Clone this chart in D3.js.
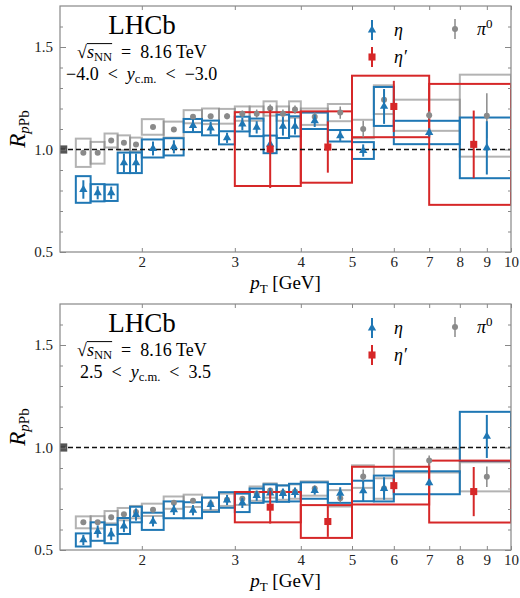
<!DOCTYPE html>
<html>
<head>
<meta charset="utf-8">
<script src="https://cdn.jsdelivr.net/npm/d3@7"></script>
<style>
  body { margin: 0; background: #fff; }
  svg, text { font-family: "Liberation Serif", "DejaVu Serif", serif; }
</style>
</head>
<body>
<svg width="520" height="598"></svg>
<script>
// pT bin edges [GeV]
const ptEdges = [1.5, 1.6, 1.7, 1.8, 1.9, 2.0, 2.2, 2.4, 2.6, 2.8, 3.0, 3.2, 3.4, 3.6, 3.8, 4.0, 4.5, 5.0, 5.5, 6, 8, 10];
const etaPrimeEdges = [3, 4, 5, 7, 10];

const xTicks = [2, 3, 4, 5, 6, 7, 8, 9, 10];
const yMajor = [0.5, 1.0, 1.5];
const yMinor = [0.6, 0.7, 0.8, 0.9, 1.1, 1.2, 1.3, 1.4, 1.6];

// backward  -4.0 < y < -3.0
const etaBwd     = [0.805, 0.789, 0.789, 0.935, 0.935, 1.005, 1.013, 1.117, 1.105, 1.057, 1.124, 1.108, 1.025, 1.113, 1.113, 1.14, 1.067, 0.995, 1.21, 1.083, 1.008];
const etaBwdSys  = [0.065, 0.042, 0.04, 0.05, 0.05, 0.044, 0.042, 0.032, 0.036, 0.032, 0.036, 0.043, 0.043, 0.057, 0.049, 0.04, 0.028, 0.041, 0.095, 0.057, 0.148];
const etaBwdStat = [0.045, 0.032, 0.03, 0.045, 0.045, 0.034, 0.032, 0.03, 0.03, 0.025, 0.03, 0.03, 0.035, 0.045, 0.04, 0.03, 0.025, 0.03, 0.085, 0.02, 0.13];

const piBwd     = [0.984, 0.984, 1.044, 1.033, 1.025, 1.11, 1.097, 1.16, 1.162, 1.162, 1.175, 1.175, 1.2, 1.175, 1.195, 1.16, 1.18, 1.1, 1.243, 1.167, 1.165];
const piBwdSys  = [0.069, 0.053, 0.034, 0.036, 0.033, 0.038, 0.039, 0.032, 0.038, 0.036, 0.035, 0.035, 0.035, 0.035, 0.04, 0.04, 0.042, 0.045, 0.07, 0.076, 0.2];
const piBwdStat = [0.01, 0.01, 0.01, 0.01, 0.01, 0.01, 0.01, 0.012, 0.012, 0.015, 0.015, 0.02, 0.02, 0.02, 0.02, 0.02, 0.03, 0.04, 0.05, 0.02, 0.11];

const etaPrimeBwd     = [1.002, 1.012, 1.21, 1.025];
const etaPrimeBwdSys  = [0.18, 0.174, 0.15, 0.295];
const etaPrimeBwdStat = [0.19, 0.125, 0.125, 0.165];

// forward  2.5 < y < 3.5
const etaFwd     = [0.549, 0.59, 0.578, 0.617, 0.673, 0.64, 0.696, 0.694, 0.721, 0.744, 0.73, 0.765, 0.778, 0.775, 0.78, 0.79, 0.776, 0.788, 0.8, 0.828, 1.054];
const etaFwdSys  = [0.032, 0.045, 0.045, 0.039, 0.038, 0.042, 0.041, 0.039, 0.035, 0.038, 0.045, 0.035, 0.042, 0.04, 0.043, 0.04, 0.046, 0.05, 0.063, 0.056, 0.12];
const etaFwdStat = [0.025, 0.03, 0.03, 0.03, 0.03, 0.025, 0.025, 0.025, 0.025, 0.025, 0.025, 0.025, 0.025, 0.025, 0.025, 0.02, 0.03, 0.05, 0.055, 0.015, 0.105];

const piFwd     = [0.635, 0.635, 0.66, 0.675, 0.685, 0.696, 0.731, 0.74, 0.725, 0.745, 0.75, 0.775, 0.79, 0.78, 0.785, 0.8, 0.752, 0.858, 0.8, 0.936, 0.857];
const piFwdSys  = [0.029, 0.03, 0.03, 0.03, 0.03, 0.03, 0.03, 0.03, 0.03, 0.03, 0.03, 0.035, 0.035, 0.035, 0.035, 0.035, 0.04, 0.055, 0.05, 0.058, 0.071];
const piFwdStat = [0.008, 0.008, 0.008, 0.008, 0.008, 0.008, 0.01, 0.01, 0.01, 0.01, 0.012, 0.012, 0.012, 0.015, 0.015, 0.015, 0.02, 0.035, 0.03, 0.025, 0.05];

const etaPrimeFwd     = [0.709, 0.639, 0.814, 0.785];
const etaPrimeFwdSys  = [0.074, 0.08, 0.092, 0.151];
const etaPrimeFwdStat = [0.08, 0.075, 0.035, 0.12];

// normalisation uncertainty box
const normPt = [1.4, 1.445];
const normUnc = 0.02;

const blue = "#1f77b4", red = "#d62728", grey = "#8a8a8a";
const SP = "\u2002"; // wider math spacing around relations

const svg = d3.select("svg");

function makeBins(edges, vals, sys, stat) {
  return vals.map((v, i) => ({
    lo: edges[i], hi: edges[i + 1], c: (edges[i] + edges[i + 1]) / 2,
    v: v, sys: sys[i], stat: stat[i]
  }));
}

const panels = [
  {
    top: 6, bottom: 252, id: "bwd",
    rap: ["\u22124.0" + SP + "<" + SP, SP + "<" + SP + "\u22123.0"], rapX: 66,
    pi: makeBins(ptEdges, piBwd, piBwdSys, piBwdStat),
    eta: makeBins(ptEdges, etaBwd, etaBwdSys, etaBwdStat),
    etaP: makeBins(etaPrimeEdges, etaPrimeBwd, etaPrimeBwdSys, etaPrimeBwdStat)
  },
  {
    top: 304, bottom: 550, id: "fwd",
    rap: ["2.5" + SP + "<" + SP, SP + "<" + SP + "3.5"], rapX: 80,
    pi: makeBins(ptEdges, piFwd, piFwdSys, piFwdStat),
    eta: makeBins(ptEdges, etaFwd, etaFwdSys, etaFwdStat),
    etaP: makeBins(etaPrimeEdges, etaPrimeFwd, etaPrimeFwdSys, etaPrimeFwdStat)
  }
];

const left = 60, right = 511;
const x = d3.scaleLog().domain([1.4, 10]).range([left, right]);

panels.forEach(p => drawPanel(p));

function drawPanel(p) {
  const y = d3.scaleLinear().domain([0.5, 1.7]).range([p.bottom, p.top]);
  const g = svg.append("g");

  g.append("clipPath").attr("id", "clip-" + p.id)
    .append("rect")
    .attr("x", left).attr("y", p.top)
    .attr("width", right - left).attr("height", p.bottom - p.top);

  const plot = g.append("g").attr("clip-path", `url(#clip-${p.id})`);

  // normalisation box
  plot.append("rect")
    .attr("x", x(normPt[0]))
    .attr("width", x(normPt[1]) - x(normPt[0]))
    .attr("y", y(1 + normUnc))
    .attr("height", y(1 - normUnc) - y(1 + normUnc))
    .attr("fill", "#555");

  // systematic boxes
  function boxes(data, color, opacity) {
    plot.append("g").selectAll("rect")
      .data(data)
      .enter()
      .append("rect")
      .attr("x", d => x(d.lo))
      .attr("width", d => x(d.hi) - x(d.lo))
      .attr("y", d => y(d.v + d.sys))
      .attr("height", d => y(d.v - d.sys) - y(d.v + d.sys))
      .attr("fill", "none")
      .attr("stroke", color)
      .attr("stroke-opacity", opacity)
      .attr("stroke-width", 2);
  }
  boxes(p.pi, "grey", 0.6);
  boxes(p.eta, blue, 1);
  boxes(p.etaP, red, 1);

  // reference line
  plot.append("line")
    .attr("x1", left).attr("x2", right)
    .attr("y1", y(1)).attr("y2", y(1))
    .attr("stroke", "#111")
    .attr("stroke-width", 1.5)
    .attr("stroke-dasharray", "5,3");

  // statistical error bars + markers
  function errBars(data, color, width) {
    plot.append("g").selectAll("line")
      .data(data)
      .enter()
      .append("line")
      .attr("x1", d => x(d.c)).attr("x2", d => x(d.c))
      .attr("y1", d => y(d.v + d.stat))
      .attr("y2", d => y(d.v - d.stat))
      .attr("stroke", color)
      .attr("stroke-width", width);
  }
  errBars(p.pi, grey, 1.5);
  plot.append("g").selectAll("circle")
    .data(p.pi)
    .enter()
    .append("circle")
    .attr("cx", d => x(d.c)).attr("cy", d => y(d.v))
    .attr("r", 3)
    .attr("fill", grey);

  errBars(p.eta, blue, 2);
  plot.append("g").selectAll("path")
    .data(p.eta)
    .enter()
    .append("path")
    .attr("d", d3.symbol(d3.symbolTriangle, 30))
    .attr("transform", d => `translate(${x(d.c)},${y(d.v)})`)
    .attr("fill", blue);

  errBars(p.etaP, red, 2);
  plot.append("g").selectAll("path")
    .data(p.etaP)
    .enter()
    .append("path")
    .attr("d", d3.symbol(d3.symbolSquare, 50))
    .attr("transform", d => `translate(${x(d.c)},${y(d.v)})`)
    .attr("fill", red);

  // axes, ticks inward on all four sides
  const axes = g.append("g");
  axes.append("g").attr("transform", `translate(0,${p.bottom})`)
    .call(d3.axisBottom(x).tickValues(xTicks).tickSize(-4).tickPadding(4).tickFormat(d3.format("d")));
  axes.append("g").attr("transform", `translate(0,${p.top})`)
    .call(d3.axisTop(x).tickValues(xTicks).tickSize(-4).tickFormat(""));
  axes.append("g").attr("transform", `translate(${left},0)`)
    .call(d3.axisLeft(y).tickValues(yMajor).tickSize(-6).tickPadding(7).tickFormat(d3.format(".1f")));
  axes.append("g").attr("transform", `translate(${left},0)`)
    .call(d3.axisLeft(y).tickValues(yMinor).tickSize(-3).tickFormat(""));
  axes.append("g").attr("transform", `translate(${right},0)`)
    .call(d3.axisRight(y).tickValues(yMajor).tickSize(-6).tickFormat(""));
  axes.append("g").attr("transform", `translate(${right},0)`)
    .call(d3.axisRight(y).tickValues(yMinor).tickSize(-3).tickFormat(""));
  axes.selectAll(".domain").remove();
  axes.selectAll(".tick line").attr("stroke", "#888");
  axes.selectAll("text")
    .attr("font-family", "Liberation Serif, DejaVu Serif, serif")
    .attr("font-size", 15)
    .attr("fill", "#222");

  g.append("rect")
    .attr("x", left).attr("y", p.top)
    .attr("width", right - left).attr("height", p.bottom - p.top)
    .attr("fill", "none")
    .attr("stroke", "#888")
    .attr("stroke-width", 1.2);

  // axis titles
  const xt = g.append("text")
    .attr("x", (left + right) / 2).attr("y", p.bottom + 37)
    .attr("text-anchor", "middle")
    .attr("font-size", 19);
  xt.append("tspan").attr("font-style", "italic").text("p");
  xt.append("tspan").attr("font-size", 13).attr("dy", 4).text("T");
  xt.append("tspan").attr("dy", -4).text(" [GeV]");

  const yt = g.append("text")
    .attr("transform", `translate(25,${(p.top + p.bottom) / 2}) rotate(-90)`)
    .attr("text-anchor", "middle")
    .attr("font-size", 23);
  yt.append("tspan").attr("font-style", "italic").text("R");
  yt.append("tspan").attr("font-size", 15).attr("dy", 4).attr("font-style", "italic").text("p");
  yt.append("tspan").attr("font-size", 15).text("Pb");

  // labels
  g.append("text")
    .attr("x", 142).attr("y", p.top + 28)
    .attr("text-anchor", "middle")
    .attr("font-size", 27)
    .text("LHCb");

  const fs = 18, by = p.top + 52;
  const st = g.append("text").attr("x", 77).attr("y", by).attr("font-size", fs);
  st.append("tspan").text("\u221A");
  st.append("tspan").attr("font-style", "italic").text("s");
  st.append("tspan").attr("font-size", fs * 0.7).attr("dy", 3).text("NN");
  st.append("tspan").attr("dy", -3).text(SP + "=" + SP + "8.16 TeV");
  const n = st.node();
  const a = n.getExtentOfChar(1), b = n.getExtentOfChar(3);
  g.append("line")
    .attr("x1", a.x).attr("x2", b.x + b.width)
    .attr("y1", by - fs * 0.8).attr("y2", by - fs * 0.8)
    .attr("stroke", "#000").attr("stroke-width", 1);

  const rt = g.append("text").attr("x", p.rapX).attr("y", p.top + 74).attr("font-size", fs);
  rt.append("tspan").text(p.rap[0]);
  rt.append("tspan").attr("font-style", "italic").text("y");
  rt.append("tspan").attr("font-size", fs * 0.7).attr("dy", 3).text("c.m.");
  rt.append("tspan").attr("dy", -3).text(p.rap[1]);

  // legend
  const leg = g.append("g").attr("transform", `translate(0,${p.top})`);
  const items = [
    { mx: 372, my: 24, color: blue, sym: "tri", label: ["\u03B7", ""] },
    { mx: 372, my: 51, color: red, sym: "sq", label: ["\u03B7", "\u2032"] },
    { mx: 455, my: 23, color: grey, sym: "dot", label: ["\u03C0", "0"] }
  ];
  items.forEach(it => {
    leg.append("line")
      .attr("x1", it.mx).attr("x2", it.mx)
      .attr("y1", it.my - 10).attr("y2", it.my + 10)
      .attr("stroke", it.color).attr("stroke-width", it.sym === "dot" ? 1.5 : 2);
    if (it.sym === "dot") {
      leg.append("circle").attr("cx", it.mx).attr("cy", it.my).attr("r", 3).attr("fill", it.color);
    } else {
      leg.append("path")
        .attr("d", d3.symbol(it.sym === "tri" ? d3.symbolTriangle : d3.symbolSquare, it.sym === "tri" ? 30 : 50))
        .attr("transform", `translate(${it.mx},${it.my})`)
        .attr("fill", it.color);
    }
    const t = leg.append("text").attr("x", it.mx + 22).attr("y", it.my + 6).attr("font-size", 18);
    t.append("tspan").attr("font-style", "italic").text(it.label[0]);
    if (it.label[1] === "0") {
      t.append("tspan").attr("font-size", 13).attr("dy", -7).text(it.label[1]);
    } else if (it.label[1]) {
      t.append("tspan").attr("font-size", 18).attr("dx", 1).text(it.label[1]);
    }
  });
}
</script>
</body>
</html>
